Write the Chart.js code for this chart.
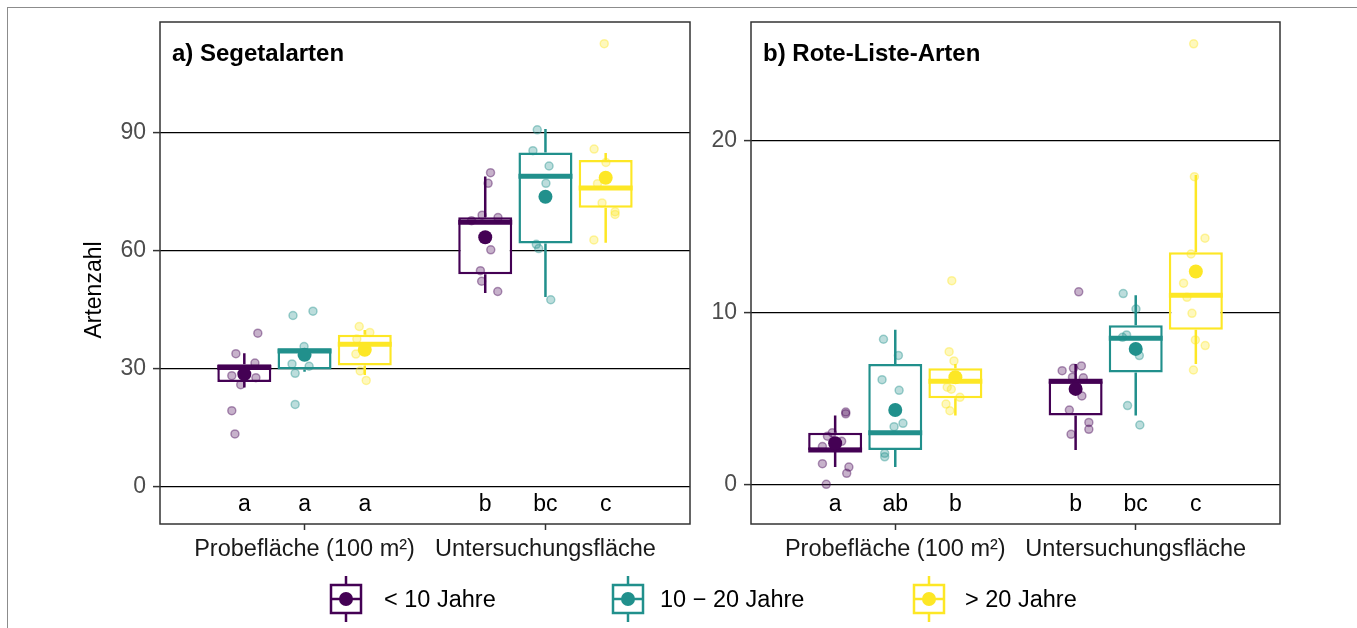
<!DOCTYPE html>
<html>
<head>
<meta charset="utf-8">
<script src="https://cdn.jsdelivr.net/npm/chart.js@4.4.1/dist/chart.umd.min.js"></script>
<style>
  body { margin: 0; background: #fff; }
  #wrap { position: relative; width: 1357px; height: 628px; overflow: hidden; background: #fff;
          font-family: "Liberation Sans", Arial, sans-serif; }
  #frame { position: absolute; left: 7px; top: 7px; width: 1360px; height: 630px;
           border-top: 1px solid #8c8c8c; border-left: 1px solid #8c8c8c; }
  canvas { position: absolute; top: 0; }
  #panelA { left: 0; }
  #panelB { left: 700px; }
  .key { position: absolute; top: 576px; }
  .lab { position: absolute; top: 585px; font-size: 23.5px; line-height: 28px; color: #000; white-space: nowrap; }
</style>
</head>
<body>
<div id="wrap">
  <div id="frame"></div>
  <canvas id="panelA" width="700" height="628"></canvas>
  <canvas id="panelB" width="657" height="628"></canvas>
  <div id="legend"></div>
</div>
<script>
const categories = ['Probefläche (100 m²)', 'Untersuchungsfläche'];
const groups = ['< 10 Jahre', '10 − 20 Jahre', '> 20 Jahre'];
const colors = ['68, 1, 84', '33, 144, 140', '253, 231, 37'];

// a) Segetalarten  -- [group][category]
const segTicks = [0, 30, 60, 90];
const segLow = [[25.2, 49.2], [29.2, 48.2], [28.4, 62.0]];
const segQ1 = [[26.6, 54.0], [29.8, 61.8], [30.8, 70.9]];
const segMedian = [[30.3, 67.2], [34.5, 78.9], [36.2, 75.9]];
const segQ3 = [[31.1, 68.5], [35.2, 84.9], [38.6, 83.0]];
const segHigh = [[33.9, 78.8], [35.2, 90.9], [39.8, 84.8]];
const segMean = [[28.6, 63.4], [33.5, 73.7], [34.8, 78.5]];
const segLetters = [['a', 'b'], ['a', 'bc'], ['a', 'c']];
const segValues = [
  [[39.0, 33.8, 31.4, 28.2, 27.7, 25.9, 19.3, 13.4], [79.8, 77.1, 69.0, 68.4, 67.6, 60.2, 54.9, 52.2, 49.6]],
  [[43.5, 44.6, 35.6, 31.2, 30.6, 28.8, 20.9], [90.7, 85.4, 81.5, 77.1, 61.6, 60.5, 47.5]],
  [[40.7, 39.2, 37.5, 33.7, 29.4, 27.0], [112.6, 85.8, 82.4, 77.0, 72.1, 69.9, 69.2, 62.7]]
];
const segJitter = [
  [[0.056, -0.035, 0.044, -0.052, 0.048, -0.015, -0.052, -0.039], [0.022, 0.012, -0.013, 0.053, -0.057, 0.023, -0.020, -0.015, 0.052]],
  [[-0.048, 0.035, -0.002, -0.052, 0.019, -0.039, -0.039], [-0.034, -0.052, 0.015, 0.002, -0.038, -0.028, 0.022]],
  [[-0.023, 0.021, -0.033, -0.037, -0.019, 0.006], [-0.006, -0.048, 0.001, -0.034, -0.015, 0.039, 0.039, -0.049]]
];

// b) Rote-Liste-Arten
const redTicks = [0, 10, 20];
const redLow = [[1.0, 2.0], [1.0, 4.0], [4.0, 7.0]];
const redQ1 = [[2.0, 4.0], [2.0, 6.5], [5.0, 9.0]];
const redMedian = [[2.0, 6.0], [3.0, 8.5], [6.0, 11.0]];
const redQ3 = [[3.0, 6.0], [7.0, 9.25], [6.75, 13.5]];
const redHigh = [[4.0, 7.0], [9.0, 11.0], [7.0, 18.0]];
const redMean = [[2.39, 5.55], [4.32, 7.88], [6.23, 12.38]];
const redLetters = [['a', 'b'], ['ab', 'bc'], ['b', 'c']];
const redValues = [
  [[4.2, 4.1, 3.0, 2.8, 2.5, 2.2, 1.2, 1.0, 0.64, 0.0], [11.2, 6.61, 6.75, 6.89, 6.23, 6.2, 5.14, 4.32, 3.6, 3.2, 2.91]],
  [[8.44, 7.5, 6.09, 5.47, 3.55, 3.35, 1.8, 1.6], [11.1, 10.2, 8.69, 8.55, 7.49, 4.58, 3.45]],
  [[11.85, 7.72, 7.18, 5.65, 5.53, 5.06, 4.67, 4.28], [25.63, 17.9, 14.32, 13.4, 11.7, 10.88, 9.95, 8.4, 8.07, 6.65]]
];
const redJitter = [
  [[0.044, 0.044, -0.012, -0.032, 0.027, -0.053, -0.053, 0.057, 0.048, -0.037], [0.013, -0.056, -0.009, 0.024, -0.013, 0.032, 0.026, -0.026, 0.055, 0.055, -0.019]],
  [[-0.049, 0.013, -0.055, 0.016, 0.032, -0.005, -0.044, -0.044], [-0.052, 0.001, -0.038, -0.055, 0.015, -0.034, 0.017]],
  [[-0.015, -0.026, -0.006, -0.034, -0.017, 0.019, -0.039, -0.023], [-0.009, -0.006, 0.038, -0.020, -0.051, -0.037, -0.016, -0.002, 0.039, -0.010]]
];

const FONT = '"Liberation Sans", Arial, sans-serif';
Chart.defaults.font.family = FONT;
const dodge = [-0.25, 0, 0.25];
const halfBox = 0.112;

const pos = (g, c) => c + 1 + dodge[g];

// letters, panel title, y title and panel border
const panelDecor = {
  id: 'panelDecor',
  afterDatasetsDraw(chart, args, opts) {
    const {ctx, chartArea: a, scales: {x, y}} = chart;
    ctx.save();
    ctx.fillStyle = '#000';
    ctx.font = '23px ' + FONT;
    ctx.textAlign = 'center';
    ctx.textBaseline = 'alphabetic';
    opts.letters.forEach((row, g) => row.forEach((t, c) => {
      ctx.fillText(t, x.getPixelForValue(pos(g, c)), y.getPixelForValue(opts.letterY));
    }));
    if (opts.yTitle) {
      ctx.save();
      ctx.translate(a.left - 65, (a.top + a.bottom) / 2 + 17);
      ctx.rotate(-Math.PI / 2);
      ctx.textBaseline = 'middle';
      ctx.fillText(opts.yTitle, 0, 0);
      ctx.restore();
    }
    ctx.font = 'bold 24px ' + FONT;
    ctx.textAlign = 'left';
    ctx.fillText(opts.title, a.left + 12, a.top + 39);
    ctx.strokeStyle = '#333';
    ctx.lineWidth = 1.5;
    ctx.strokeRect(a.left, a.top, a.right - a.left, a.bottom - a.top);
    ctx.restore();
  }
};

function buildDatasets(s) {
  const ds = [];
  groups.forEach((name, g) => {
    const col = colors[g];
    const whisk = [], med = [], pts = [], means = [], boxes = [];
    categories.forEach((cat, c) => {
      const p = pos(g, c);
      whisk.push({x: p, y: s.q3[g][c]}, {x: p, y: s.high[g][c]}, {x: p, y: null},
                 {x: p, y: s.q1[g][c]}, {x: p, y: s.low[g][c]}, {x: p, y: null});
      med.push({x: p - halfBox, y: s.median[g][c]}, {x: p + halfBox, y: s.median[g][c]}, {x: p, y: null});
      boxes.push({x: p, y: [s.q1[g][c], s.q3[g][c]]});
      means.push({x: p, y: s.mean[g][c]});
      s.values[g][c].forEach((v, i) => pts.push({x: p + s.jitter[g][c][i], y: v}));
    });
    ds.push({type: 'line', data: whisk, borderColor: `rgb(${col})`, borderWidth: 2.5,
             pointRadius: 0, spanGaps: false, order: 5});
    ds.push({type: 'bar', data: boxes, backgroundColor: '#fff', borderColor: `rgb(${col})`,
             borderWidth: 2.5, borderSkipped: false, barThickness: 54, grouped: false,
             inflateAmount: 0, order: 4});
    ds.push({type: 'line', data: med, borderColor: `rgb(${col})`, borderWidth: 5,
             pointRadius: 0, spanGaps: false, order: 3});
    ds.push({type: 'scatter', data: pts, backgroundColor: `rgba(${col}, 0.3)`,
             borderColor: `rgba(${col}, 0.4)`, borderWidth: 1.5, pointRadius: 4, order: 2});
    ds.push({type: 'scatter', data: means, backgroundColor: `rgb(${col})`, borderWidth: 0,
             pointRadius: 7, order: 1});
  });
  return ds;
}

function makePanel(id, s) {
  return new Chart(document.getElementById(id), {
    type: 'scatter',
    data: {datasets: buildDatasets(s)},
    plugins: [panelDecor],
    options: {
      responsive: false,
      animation: false,
      events: [],
      layout: {padding: {left: s.padLeft, right: s.padRight, top: 22, bottom: 54}},
      plugins: {
        legend: {display: false},
        tooltip: {enabled: false},
        panelDecor: {title: s.title, yTitle: s.yTitle, letters: s.letters, letterY: s.letterY}
      },
      scales: {
        x: {
          type: 'linear', min: 0.4, max: 2.6, offset: false,
          afterBuildTicks: sc => { sc.ticks = categories.map((c, i) => ({value: i + 1})); },
          afterFit: sc => { sc.height = 50; },
          ticks: {callback: v => categories[v - 1], color: '#1a1a1a', font: {size: 23.5},
                  padding: 5, maxRotation: 0, autoSkip: false},
          grid: {drawOnChartArea: false, offset: false, tickLength: 6, tickColor: '#333', tickWidth: 1.5},
          border: {display: false}
        },
        y: {
          type: 'linear', min: s.min, max: s.max,
          afterBuildTicks: sc => { sc.ticks = s.ticks.map(v => ({value: v})); },
          afterFit: sc => { sc.width = s.axisWidth; },
          ticks: {color: '#4d4d4d', font: {size: 23}, padding: 7},
          grid: {color: '#000', lineWidth: 1.2, tickLength: 7, tickColor: '#333', tickWidth: 1.5},
          border: {display: false}
        }
      }
    }
  });
}

makePanel('panelA', {
  title: 'a) Segetalarten', yTitle: 'Artenzahl', min: -9.5, max: 118.1, ticks: segTicks,
  low: segLow, q1: segQ1, median: segMedian, q3: segQ3, high: segHigh, mean: segMean,
  values: segValues, jitter: segJitter, letters: segLetters, letterY: -6.2,
  padLeft: 82, axisWidth: 78, padRight: 10
});
makePanel('panelB', {
  title: 'b) Rote-Liste-Arten', yTitle: '', min: -2.31, max: 26.9, ticks: redTicks,
  low: redLow, q1: redQ1, median: redMedian, q3: redQ3, high: redHigh, mean: redMean,
  values: redValues, jitter: redJitter, letters: redLetters, letterY: -1.54,
  padLeft: 0, axisWidth: 51, padRight: 77
});

// shared legend
const keyLeft = [328, 610, 911];
const labLeft = [384, 660, 965];
const legend = document.getElementById('legend');
groups.forEach((name, g) => {
  const c = `rgb(${colors[g]})`;
  legend.insertAdjacentHTML('beforeend',
    `<svg class="key" style="left:${keyLeft[g]}px" width="36" height="46">
       <line x1="18" y1="0" x2="18" y2="46" stroke="${c}" stroke-width="2.5"/>
       <rect x="3" y="9" width="30" height="28" fill="#fff" stroke="${c}" stroke-width="2.5"/>
       <line x1="3" y1="23" x2="33" y2="23" stroke="${c}" stroke-width="2.5"/>
       <circle cx="18" cy="23" r="7" fill="${c}"/>
     </svg>
     <div class="lab" style="left:${labLeft[g]}px">${name.replace('<', '&lt;').replace('>', '&gt;')}</div>`);
});
</script>
</body>
</html>
